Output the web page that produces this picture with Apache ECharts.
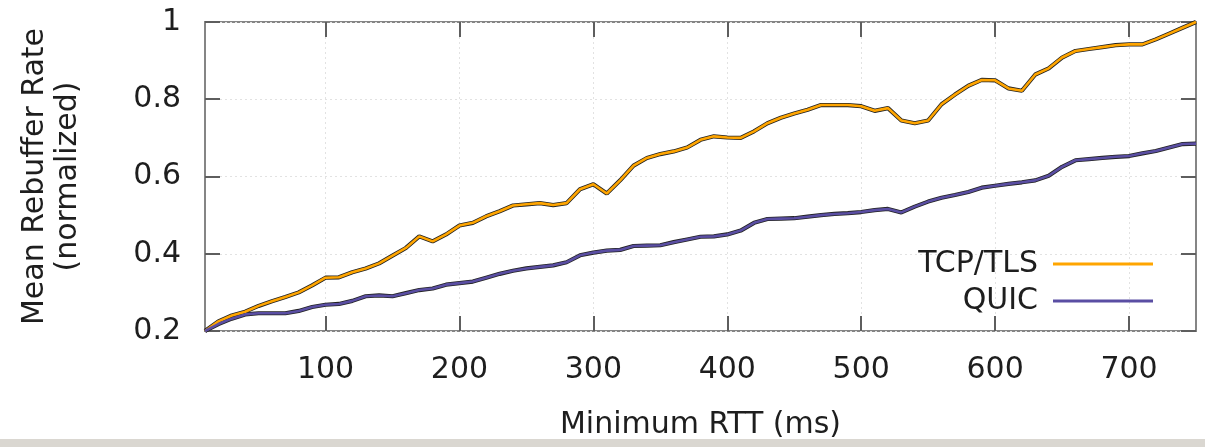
<!DOCTYPE html>
<html><head><meta charset="utf-8">
<script src="https://cdn.jsdelivr.net/npm/echarts@6/dist/echarts.min.js"></script>
<style>html,body{margin:0;padding:0;background:#fff}#c{width:1205px;height:447px}</style>
</head><body><div id="c"></div>
<script>
const rttMs = [10,20,30,40,50,60,70,80,90,100,110,120,130,140,150,160,170,180,190,200,
  210,220,230,240,250,260,270,280,290,300,310,320,330,340,350,360,370,380,390,400,
  410,420,430,440,450,460,470,480,490,500,510,520,530,540,550,560,570,580,590,600,
  610,620,630,640,650,660,670,680,690,700,710,720,730,740,750];
const tcpTls = [0.2,0.225,0.24,0.25,0.265,0.277,0.288,0.3,0.318,0.338,
  0.339,0.352,0.362,0.375,0.395,0.415,0.445,0.432,0.45,0.473,
  0.48,0.497,0.51,0.525,0.528,0.531,0.526,0.531,0.567,0.58,
  0.556,0.59,0.628,0.648,0.658,0.665,0.675,0.695,0.704,0.701,
  0.7,0.717,0.738,0.752,0.763,0.773,0.785,0.785,0.785,0.782,
  0.77,0.777,0.745,0.738,0.745,0.787,0.812,0.835,0.85,0.849,
  0.828,0.822,0.864,0.88,0.908,0.925,0.93,0.935,0.94,0.942,
  0.942,0.955,0.97,0.985,1.0];
const quic = [0.2,0.218,0.232,0.243,0.246,0.246,0.246,0.252,0.262,0.268,
  0.27,0.278,0.29,0.292,0.29,0.298,0.306,0.31,0.32,0.324,
  0.328,0.338,0.348,0.356,0.362,0.366,0.37,0.378,0.396,0.403,
  0.408,0.41,0.42,0.421,0.422,0.43,0.437,0.444,0.445,0.45,
  0.46,0.48,0.49,0.491,0.492,0.496,0.5,0.503,0.505,0.508,
  0.513,0.516,0.507,0.522,0.535,0.545,0.552,0.56,0.571,0.576,
  0.581,0.585,0.59,0.602,0.625,0.642,0.645,0.648,0.651,0.653,
  0.66,0.666,0.675,0.684,0.685];
const xTickValues = [100,200,300,400,500,600,700];
const seriesNames = ['TCP/TLS','QUIC'];

const FONT = 'DejaVu Sans';
const TXT = '#1e1e1e';
const tcpPts = rttMs.map((x,i)=>[x,tcpTls[i]]);
const quicPts = rttMs.map((x,i)=>[x,quic[i]]);

const tickStyle = {color:'#5e5e5e', width:2};
const chart = echarts.init(document.getElementById('c'), null, {renderer:'canvas'});
chart.setOption({
  animation:false,
  backgroundColor:'#fff',
  grid:{left:205,right:9,top:22,bottom:113,show:true,borderColor:'#858585',borderWidth:2,backgroundColor:'transparent'},
  graphic:[{type:'rect',left:0,top:439,shape:{width:1205,height:8},style:{fill:'#dad7d1'},silent:true}],
  legend:{
    data:[{name:seriesNames[0],icon:'rect'},{name:seriesNames[1],icon:'rect'}],
    orient:'vertical',align:'right',right:47,top:244,
    itemWidth:100,itemHeight:3,itemGap:7,
    textStyle:{fontFamily:FONT,fontSize:30,color:TXT,lineHeight:30,padding:[0,10,0,0]}
  },
  xAxis:[{
    type:'value',min:10,max:750,position:'bottom',
    axisLine:{show:false},
    axisTick:{inside:true,length:15,customValues:xTickValues,lineStyle:tickStyle},
    axisLabel:{customValues:xTickValues,margin:24,fontFamily:FONT,fontSize:30,color:TXT,lineHeight:30},
    splitLine:{show:true,lineStyle:{color:'#e2e2e2',width:1,type:[2,3]}},
    name:'Minimum RTT (ms)',nameLocation:'middle',nameGap:78,
    nameTextStyle:{fontFamily:FONT,fontSize:30,color:TXT,lineHeight:33}
  },{
    type:'value',min:10,max:750,position:'top',
    axisLine:{show:false},
    axisTick:{inside:true,length:15,customValues:xTickValues,lineStyle:tickStyle},
    axisLabel:{show:false},splitLine:{show:false}
  }],
  yAxis:[{
    type:'value',min:0.2,max:1,interval:0.2,position:'left',
    axisLine:{show:false},
    axisTick:{inside:true,length:15,lineStyle:tickStyle},
    axisLabel:{margin:24,fontFamily:FONT,fontSize:30,color:TXT},
    splitLine:{show:true,lineStyle:{color:'#e2e2e2',width:1,type:[2,3]}},
    name:'Mean Rebuffer Rate\n(normalized)',nameLocation:'middle',nameRotate:90,nameGap:120,
    nameTextStyle:{fontFamily:FONT,fontSize:30,color:TXT,lineHeight:33}
  },{
    type:'value',min:0.2,max:1,interval:0.2,position:'right',
    axisLine:{show:false},
    axisTick:{inside:true,length:15,lineStyle:tickStyle},
    axisLabel:{show:false},splitLine:{show:false}
  }],
  series:[
    {type:'line',name:'TCP/TLS edge',data:tcpPts,symbol:'none',silent:true,z:2,
      lineStyle:{color:'#222',width:4.2},itemStyle:{color:'#222'}},
    {type:'line',name:seriesNames[0],data:tcpPts,symbol:'none',z:3,
      lineStyle:{color:'#ffa500',width:2.6},itemStyle:{color:'#ffa500'}},
    {type:'line',name:'QUIC edge',data:quicPts,symbol:'none',silent:true,z:2,
      lineStyle:{color:'#222',width:4.2},itemStyle:{color:'#222'}},
    {type:'line',name:seriesNames[1],data:quicPts,symbol:'none',z:3,
      lineStyle:{color:'#5a4ea3',width:2.6},itemStyle:{color:'#5a4ea3'}}
  ]
});
</script></body></html>
